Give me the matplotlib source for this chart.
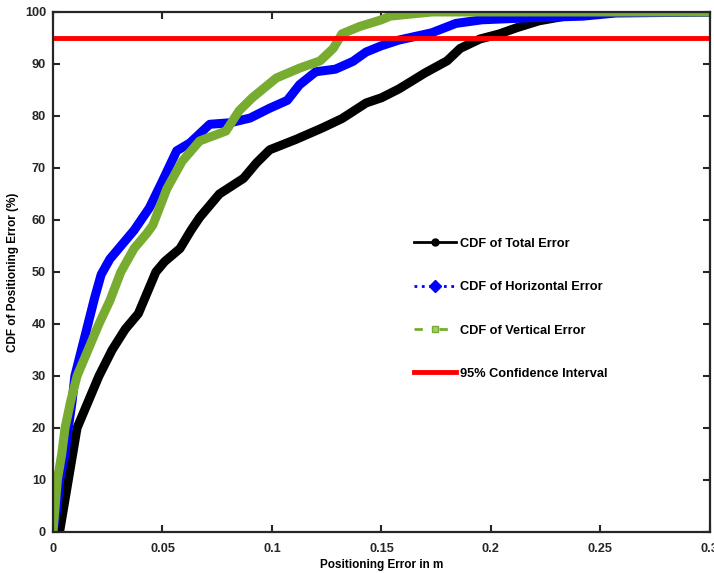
import matplotlib.pyplot as plt
from matplotlib.lines import Line2D

plt.rcParams['font.family'] = ['Liberation Sans', 'DejaVu Sans']
plt.rcParams['font.weight'] = 'bold'

# CDF of total error (x in m, y in %)
total_x = [0.003, 0.005, 0.007, 0.009, 0.011, 0.016, 0.021, 0.027, 0.033, 0.039,
           0.043, 0.047, 0.051, 0.058, 0.063, 0.067, 0.076, 0.087, 0.093, 0.099,
           0.111, 0.123, 0.132, 0.143, 0.150, 0.158, 0.170, 0.180, 0.186, 0.195,
           0.204, 0.212, 0.222, 0.234, 0.245, 0.250, 0.300]
total_y = [0, 5, 10, 15, 20, 25, 30, 35, 39, 42,
           46, 50, 52, 54.5, 58, 60.5, 65, 68, 71, 73.5,
           75.5, 77.7, 79.5, 82.5, 83.5, 85.2, 88.3, 90.6, 93, 94.8,
           95.8, 97, 98.3, 99.2, 99.7, 100, 100]

# CDF of horizontal error
horiz_x = [0.0, 0.002, 0.003, 0.0055, 0.007, 0.0087, 0.010, 0.013, 0.016, 0.019,
           0.022, 0.026, 0.031, 0.037, 0.044, 0.050, 0.0565, 0.0625, 0.0716, 0.081,
           0.090, 0.099, 0.107, 0.1126, 0.120, 0.129, 0.137, 0.143, 0.150, 0.158,
           0.173, 0.184, 0.196, 0.219, 0.242, 0.257, 0.300]
horiz_y = [0, 5, 10, 15, 20, 25, 30, 35, 40, 45,
           49.5, 52.5, 55, 58, 62.3, 67.5, 73.3, 74.8, 78.4, 78.7,
           79.6, 81.5, 83, 86, 88.5, 89, 90.5, 92.3, 93.5, 94.6,
           96, 97.8, 98.5, 98.9, 99.2, 99.8, 100]

# CDF of vertical error
vert_x = [0.0, 0.001, 0.002, 0.004, 0.0055, 0.008, 0.011, 0.016, 0.021, 0.026,
          0.031, 0.037, 0.043, 0.0456, 0.052, 0.059, 0.067, 0.079, 0.085, 0.091,
          0.102, 0.1126, 0.122, 0.128, 0.132, 0.140, 0.150, 0.154, 0.173, 0.300]
vert_y = [0, 5, 10, 15, 20, 25, 30, 35, 40, 44.5,
          50, 54.5, 57.5, 59, 66, 71.3, 75.2, 77.1, 81, 83.5,
          87.3, 89.2, 90.6, 93, 95.8, 97.2, 98.5, 99.2, 100, 100]

# 95% confidence level
conf_x = [0, 0.3]
conf_y = [95, 95]

c_green = '#77AC30'

fig = plt.figure(figsize=(7.14, 5.73), dpi=100)
ax = fig.add_axes([0.0742, 0.0716, 0.92, 0.9075])

ax.plot(total_x, total_y, color='black', lw=6.5, solid_joinstyle='round')
ax.plot(horiz_x, horiz_y, color='blue', lw=6.5, solid_joinstyle='round')
ax.plot(vert_x, vert_y, color=c_green, lw=6.5, solid_joinstyle='round')
ax.plot(conf_x, conf_y, color='red', lw=3.5)

ax.set_xlim(0, 0.3)
ax.set_ylim(0, 100)
ax.set_xticks([0, 0.05, 0.1, 0.15, 0.2, 0.25, 0.3])
ax.set_xticklabels(['0', '0.05', '0.1', '0.15', '0.2', '0.25', '0.3'])
ax.set_yticks(range(0, 101, 10))
ax.tick_params(direction='in', length=5, width=1.5, labelsize=9.2,
               colors='#262626', top=True, right=True)
ax.tick_params(axis='x', pad=8)
ax.tick_params(axis='y', pad=5)
for s in ax.spines.values():
    s.set_linewidth(1.6)
    s.set_color('#262626')

ax.set_xlabel('Positioning Error in m', fontsize=8.5, fontweight='bold', labelpad=3)
ax.set_ylabel('CDF of Positioning Error (%)', fontsize=8.5, fontweight='bold', labelpad=4)

handles = [
    Line2D([], [], color='black', lw=2, marker='o', markersize=5),
    Line2D([], [], color='blue', lw=2, ls=':', marker='D', markersize=6),
    Line2D([], [], color=c_green, lw=2, ls=(0, (3, 6)), marker='s', markersize=5,
           mfc='#a6cc7a'),
    Line2D([], [], color='red', lw=3.5),
]
labels = ['CDF of Total Error', 'CDF of Horizontal Error',
          'CDF of Vertical Error', '95% Confidence Interval']
ax.legend(handles, labels, loc='center left', bbox_to_anchor=(0.540, 0.429),
          frameon=False, fontsize=9.2, handlelength=3.3, handletextpad=0.3,
          labelspacing=2.45, borderpad=0, numpoints=1)

plt.savefig('out.png', dpi=100)
